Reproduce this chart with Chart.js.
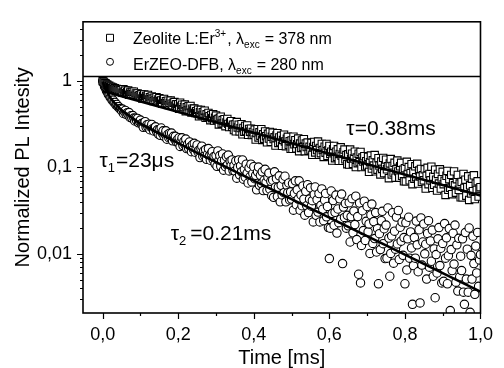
<!DOCTYPE html>
<html>
<head>
<meta charset="utf-8">
<script src="https://cdn.jsdelivr.net/npm/chart.js"></script>
<style>
  html, body { margin: 0; padding: 0; background: #fff; }
  canvas { display: block; }
</style>
</head>
<body>
<canvas id="decay" width="504" height="368"></canvas>
<script>
// time axis of both decay curves [ms], one row per 0.05 ms
const times = [
  0, 0.0025, 0.005, 0.0075, 0.01, 0.0125, 0.015, 0.0175, 0.02, 0.0225, 0.025, 0.0275, 0.03, 0.0325, 0.035, 0.0375, 0.04, 0.0425, 0.045, 0.0475,
  0.05, 0.0525, 0.055, 0.0575, 0.06, 0.0625, 0.065, 0.0675, 0.07, 0.0725, 0.075, 0.0775, 0.08, 0.0825, 0.085, 0.0875, 0.09, 0.0925, 0.095, 0.0975,
  0.1, 0.1025, 0.105, 0.1075, 0.11, 0.1125, 0.115, 0.1175, 0.12, 0.1225, 0.125, 0.1275, 0.13, 0.1325, 0.135, 0.1375, 0.14, 0.1425, 0.145, 0.1475,
  0.15, 0.1525, 0.155, 0.1575, 0.16, 0.1625, 0.165, 0.1675, 0.17, 0.1725, 0.175, 0.1775, 0.18, 0.1825, 0.185, 0.1875, 0.19, 0.1925, 0.195, 0.1975,
  0.2, 0.2025, 0.205, 0.2075, 0.21, 0.2125, 0.215, 0.2175, 0.22, 0.2225, 0.225, 0.2275, 0.23, 0.2325, 0.235, 0.2375, 0.24, 0.2425, 0.245, 0.2475,
  0.25, 0.2525, 0.255, 0.2575, 0.26, 0.2625, 0.265, 0.2675, 0.27, 0.2725, 0.275, 0.2775, 0.28, 0.2825, 0.285, 0.2875, 0.29, 0.2925, 0.295, 0.2975,
  0.3, 0.3025, 0.305, 0.3075, 0.31, 0.3125, 0.315, 0.3175, 0.32, 0.3225, 0.325, 0.3275, 0.33, 0.3325, 0.335, 0.3375, 0.34, 0.3425, 0.345, 0.3475,
  0.35, 0.3525, 0.355, 0.3575, 0.36, 0.3625, 0.365, 0.3675, 0.37, 0.3725, 0.375, 0.3775, 0.38, 0.3825, 0.385, 0.3875, 0.39, 0.3925, 0.395, 0.3975,
  0.4, 0.4025, 0.405, 0.4075, 0.41, 0.4125, 0.415, 0.4175, 0.42, 0.4225, 0.425, 0.4275, 0.43, 0.4325, 0.435, 0.4375, 0.44, 0.4425, 0.445, 0.4475,
  0.45, 0.4525, 0.455, 0.4575, 0.46, 0.4625, 0.465, 0.4675, 0.47, 0.4725, 0.475, 0.4775, 0.48, 0.4825, 0.485, 0.4875, 0.49, 0.4925, 0.495, 0.4975,
  0.5, 0.5025, 0.505, 0.5075, 0.51, 0.5125, 0.515, 0.5175, 0.52, 0.5225, 0.525, 0.5275, 0.53, 0.5325, 0.535, 0.5375, 0.54, 0.5425, 0.545, 0.5475,
  0.55, 0.5525, 0.555, 0.5575, 0.56, 0.5625, 0.565, 0.5675, 0.57, 0.5725, 0.575, 0.5775, 0.58, 0.5825, 0.585, 0.5875, 0.59, 0.5925, 0.595, 0.5975,
  0.6, 0.6025, 0.605, 0.6075, 0.61, 0.6125, 0.615, 0.6175, 0.62, 0.6225, 0.625, 0.6275, 0.63, 0.6325, 0.635, 0.6375, 0.64, 0.6425, 0.645, 0.6475,
  0.65, 0.6525, 0.655, 0.6575, 0.66, 0.6625, 0.665, 0.6675, 0.67, 0.6725, 0.675, 0.6775, 0.68, 0.6825, 0.685, 0.6875, 0.69, 0.6925, 0.695, 0.6975,
  0.7, 0.7025, 0.705, 0.7075, 0.71, 0.7125, 0.715, 0.7175, 0.72, 0.7225, 0.725, 0.7275, 0.73, 0.7325, 0.735, 0.7375, 0.74, 0.7425, 0.745, 0.7475,
  0.75, 0.7525, 0.755, 0.7575, 0.76, 0.7625, 0.765, 0.7675, 0.77, 0.7725, 0.775, 0.7775, 0.78, 0.7825, 0.785, 0.7875, 0.79, 0.7925, 0.795, 0.7975,
  0.8, 0.8025, 0.805, 0.8075, 0.81, 0.8125, 0.815, 0.8175, 0.82, 0.8225, 0.825, 0.8275, 0.83, 0.8325, 0.835, 0.8375, 0.84, 0.8425, 0.845, 0.8475,
  0.85, 0.8525, 0.855, 0.8575, 0.86, 0.8625, 0.865, 0.8675, 0.87, 0.8725, 0.875, 0.8775, 0.88, 0.8825, 0.885, 0.8875, 0.89, 0.8925, 0.895, 0.8975,
  0.9, 0.9025, 0.905, 0.9075, 0.91, 0.9125, 0.915, 0.9175, 0.92, 0.9225, 0.925, 0.9275, 0.93, 0.9325, 0.935, 0.9375, 0.94, 0.9425, 0.945, 0.9475,
  0.95, 0.9525, 0.955, 0.9575, 0.96, 0.9625, 0.965, 0.9675, 0.97, 0.9725, 0.975, 0.9775, 0.98, 0.9825, 0.985, 0.9875, 0.99, 0.9925, 0.995, 0.9975,
  1.0
];

// Zeolite L:Er3+ (squares)
const zeoliteVals = [
  1.0, 0.98, 0.95, 0.94, 0.91, 0.905, 0.875, 0.88, 0.85, 0.86, 0.83, 0.84, 0.81, 0.825, 0.80, 0.81, 0.785, 0.80, 0.775, 0.79,
  0.786, 0.730, 0.804, 0.753, 0.776, 0.722, 0.744, 0.775, 0.695, 0.739, 0.708, 0.751, 0.707, 0.752, 0.677, 0.719, 0.695, 0.718, 0.667, 0.687,
  0.664, 0.702, 0.628, 0.671, 0.699, 0.636, 0.671, 0.644, 0.690, 0.612, 0.648, 0.615, 0.664, 0.627, 0.586, 0.642, 0.605, 0.651, 0.582, 0.610,
  0.634, 0.587, 0.597, 0.546, 0.606, 0.620, 0.552, 0.584, 0.555, 0.593, 0.527, 0.560, 0.594, 0.547, 0.519, 0.560, 0.571, 0.518, 0.538, 0.492,
  0.540, 0.478, 0.562, 0.506, 0.532, 0.473, 0.499, 0.534, 0.446, 0.496, 0.463, 0.511, 0.464, 0.514, 0.432, 0.479, 0.455, 0.480, 0.426, 0.448,
  0.425, 0.465, 0.390, 0.434, 0.462, 0.398, 0.434, 0.407, 0.453, 0.375, 0.412, 0.379, 0.428, 0.391, 0.352, 0.405, 0.370, 0.414, 0.348, 0.375,
  0.398, 0.353, 0.364, 0.314, 0.373, 0.387, 0.321, 0.353, 0.324, 0.362, 0.300, 0.331, 0.364, 0.319, 0.293, 0.332, 0.343, 0.295, 0.312, 0.270,
  0.314, 0.262, 0.335, 0.289, 0.312, 0.262, 0.285, 0.317, 0.242, 0.286, 0.259, 0.302, 0.263, 0.306, 0.238, 0.279, 0.259, 0.281, 0.237, 0.257,
  0.238, 0.274, 0.210, 0.250, 0.277, 0.222, 0.255, 0.233, 0.277, 0.208, 0.242, 0.215, 0.261, 0.230, 0.195, 0.245, 0.216, 0.257, 0.198, 0.226,
  0.252, 0.213, 0.223, 0.179, 0.234, 0.249, 0.192, 0.222, 0.196, 0.232, 0.178, 0.208, 0.239, 0.199, 0.176, 0.215, 0.226, 0.182, 0.201, 0.164,
  0.205, 0.164, 0.227, 0.185, 0.207, 0.166, 0.186, 0.216, 0.154, 0.189, 0.168, 0.205, 0.172, 0.212, 0.154, 0.189, 0.172, 0.194, 0.156, 0.173,
  0.161, 0.192, 0.140, 0.172, 0.197, 0.149, 0.177, 0.159, 0.199, 0.140, 0.168, 0.146, 0.187, 0.159, 0.132, 0.174, 0.148, 0.187, 0.136, 0.158,
  0.177, 0.143, 0.152, 0.120, 0.162, 0.177, 0.128, 0.152, 0.132, 0.162, 0.119, 0.143, 0.171, 0.136, 0.119, 0.150, 0.161, 0.124, 0.139, 0.109,
  0.142, 0.108, 0.161, 0.126, 0.144, 0.110, 0.127, 0.152, 0.101, 0.130, 0.112, 0.144, 0.115, 0.151, 0.101, 0.130, 0.117, 0.135, 0.103, 0.118,
  0.105, 0.132, 0.089, 0.115, 0.137, 0.097, 0.121, 0.105, 0.139, 0.090, 0.113, 0.094, 0.128, 0.105, 0.083, 0.117, 0.096, 0.129, 0.086, 0.104,
  0.123, 0.095, 0.103, 0.075, 0.111, 0.125, 0.083, 0.104, 0.087, 0.113, 0.076, 0.095, 0.120, 0.090, 0.076, 0.103, 0.113, 0.080, 0.094, 0.069,
  0.098, 0.069, 0.116, 0.084, 0.101, 0.071, 0.086, 0.109, 0.064, 0.089, 0.074, 0.103, 0.077, 0.110, 0.065, 0.092, 0.079, 0.096, 0.068, 0.081,
  0.071, 0.095, 0.057, 0.080, 0.099, 0.064, 0.084, 0.071, 0.102, 0.058, 0.078, 0.063, 0.094, 0.072, 0.054, 0.084, 0.065, 0.095, 0.057, 0.073,
  0.089, 0.064, 0.070, 0.048, 0.080, 0.091, 0.055, 0.073, 0.058, 0.082, 0.049, 0.066, 0.090, 0.062, 0.051, 0.073, 0.082, 0.055, 0.065, 0.045,
  0.068, 0.045, 0.084, 0.058, 0.072, 0.047, 0.059, 0.079, 0.042, 0.062, 0.050, 0.074, 0.053, 0.081, 0.043, 0.065, 0.055, 0.069, 0.046, 0.057,
  0.059
];

// ErZEO-DFB (circles)
const erzeoVals = [
  1.0, 0.94, 0.86, 0.83, 0.77, 0.755, 0.70, 0.69, 0.645, 0.64, 0.60, 0.60, 0.565, 0.565, 0.53, 0.535, 0.505, 0.505, 0.478, 0.48,
  0.453, 0.473, 0.421, 0.442, 0.456, 0.411, 0.428, 0.407, 0.431, 0.379, 0.396, 0.372, 0.398, 0.372, 0.345, 0.371, 0.347, 0.369, 0.328, 0.339,
  0.353, 0.320, 0.325, 0.291, 0.329, 0.338, 0.292, 0.312, 0.291, 0.316, 0.273, 0.292, 0.314, 0.281, 0.264, 0.289, 0.295, 0.262, 0.272, 0.243,
  0.272, 0.235, 0.286, 0.250, 0.265, 0.229, 0.243, 0.265, 0.212, 0.241, 0.221, 0.249, 0.221, 0.250, 0.203, 0.229, 0.214, 0.229, 0.198, 0.209,
  0.196, 0.221, 0.175, 0.200, 0.220, 0.179, 0.200, 0.184, 0.213, 0.165, 0.186, 0.167, 0.197, 0.174, 0.152, 0.183, 0.162, 0.190, 0.150, 0.166,
  0.182, 0.152, 0.159, 0.130, 0.166, 0.176, 0.135, 0.155, 0.137, 0.161, 0.124, 0.142, 0.165, 0.136, 0.121, 0.145, 0.152, 0.123, 0.134, 0.110,
  0.137, 0.103, 0.155, 0.120, 0.137, 0.103, 0.119, 0.143, 0.093, 0.121, 0.102, 0.133, 0.106, 0.139, 0.091, 0.118, 0.105, 0.122, 0.092, 0.105,
  0.091, 0.119, 0.075, 0.100, 0.122, 0.082, 0.104, 0.089, 0.122, 0.073, 0.095, 0.077, 0.109, 0.086, 0.066, 0.099, 0.078, 0.109, 0.068, 0.085,
  0.102, 0.074, 0.081, 0.055, 0.089, 0.101, 0.062, 0.081, 0.065, 0.089, 0.054, 0.071, 0.095, 0.067, 0.054, 0.077, 0.086, 0.056, 0.069, 0.047,
  0.071, 0.045, 0.089, 0.059, 0.074, 0.046, 0.059, 0.080, 0.040, 0.062, 0.048, 0.073, 0.051, 0.079, 0.040, 0.062, 0.051, 0.066, 0.042, 0.052,
  0.043, 0.065, 0.032, 0.050, 0.070, 0.037, 0.055, 0.043, 0.070, 0.032, 0.048, 0.036, 0.061, 0.043, 0.028, 0.053, 0.036, 0.063, 0.030, 0.043,
  0.058, 0.0356, 0.0412, 0.0234, 0.0486, 0.0593, 0.0279, 0.0423, 0.0304, 0.0498, 0.0234, 0.0364, 0.0564, 0.0328, 0.0242, 0.0418, 0.0499, 0.0268, 0.0354, 0.0201,
  0.0088, 0.0198, 0.0533, 0.0293, 0.0413, 0.0214, 0.0302, 0.0478, 0.0174, 0.033, 0.0229, 0.0433, 0.0252, 0.0491, 0.0077, 0.0348, 0.0264, 0.0383, 0.0198, 0.0279,
  0.0211, 0.039, 0.0137, 0.027, 0.0435, 0.0175, 0.0312, 0.0218, 0.0464, 0.0146, 0.027, 0.0058, 0.0387, 0.0046, 0.0125, 0.0315, 0.0186, 0.0407, 0.0143, 0.0238,
  0.0353, 0.0179, 0.0222, 0.0101, 0.0282, 0.0376, 0.0132, 0.0236, 0.015, 0.03, 0.0105, 0.0195, 0.0045, 0.0171, 0.0112, 0.0242, 0.031, 0.0131, 0.0195, 0.0088,
  0.0215, 0.0089, 0.0339, 0.0152, 0.0055, 0.0101, 0.0161, 0.0299, 0.0078, 0.0183, 0.0113, 0.0266, 0.013, 0.0317, 0.0086, 0.0203, 0.014, 0.0233, 0.0096, 0.0154,
  0.0045, 0.0229, 0.0065, 0.0149, 0.0265, 0.0089, 0.0179, 0.0117, 0.0026, 0.0073, 0.0154, 0.0089, 0.0239, 0.0127, 0.0062, 0.019, 0.0027, 0.026, 0.0074, 0.0137,
  0.0222, 0.01, 0.0129, 0.0051, 0.0172, 0.0242, 0.007, 0.0141, 0.0082, 0.0188, 0.0055, 0.0114, 0.0031, 0.0098, 0.006, 0.0149, 0.0201, 0.0073, 0.0116, 0.0046,
  0.0132, 0.0048, 0.0224, 0.0089, 0.0153, 0.0045, 0.0095, 0.0196, 0.0022, 0.0112, 0.0064, 0.0173, 0.0076, 0.0215, 0.0047, 0.0127, 0.0037, 0.0151, 0.0054, 0.0094,
  0.0064, 0.0149, 0.0036, 0.0026, 0.0176, 0.0051, 0.0113, 0.0036, 0.0199, 0.0021, 0.0096, 0.0051, 0.016, 0.0077, 0.0034, 0.0123, 0.006, 0.0177, 0.0042, 0.0085,
  0.0098
];

// fitted curves
const zeoliteFitT = [0, 0.5, 1.0];
const zeoliteFitV = [0.768, 0.19, 0.0472];
const erzeoFitT = [0, 0.005, 0.01, 0.02, 0.03, 0.05, 0.075, 0.1, 0.15, 0.2, 0.25, 0.5, 0.75, 1.0];
const erzeoFitV = [0.974, 0.856, 0.772, 0.644, 0.566, 0.46, 0.384, 0.32, 0.247, 0.191, 0.147, 0.0429, 0.0125, 0.00365];

// ticks
const xTickVals = [0, 0.2, 0.4, 0.6, 0.8, 1.0];
const xTickLabels = ["0,0", "0,2", "0,4", "0,6", "0,8", "1,0"];
const xMinorVals = [0.1, 0.3, 0.5, 0.7, 0.9];
const yTickVals = [0.01, 0.1, 1];
const yTickLabels = ["0,01", "0,1", "1"];
const yMinorVals = [
  0.003, 0.004, 0.005, 0.006, 0.007, 0.008, 0.009,
  0.02, 0.03, 0.04, 0.05, 0.06, 0.07, 0.08, 0.09,
  0.2, 0.3, 0.4, 0.5, 0.6, 0.7, 0.8, 0.9,
  2, 3, 4
];

const FONT = "'Liberation Sans', Arial, sans-serif";
const legendFloor = 1.14; // y value where the legend box ends

const toPoints = (xs, ys) => xs.map((x, i) => ({ x: x, y: ys[i] }));

const findIdx = (list, v) => list.findIndex((t) => Math.abs(t - v) <= Math.abs(t) * 1e-6 + 1e-9);

// draws text made of pieces with their own size / shift (super- and subscripts)
const drawRich = (ctx, x, y, parts) => {
  parts.forEach((p) => {
    ctx.font = p.size + "px " + FONT;
    x += p.gap || 0;
    ctx.fillText(p.text, x, y + (p.dy || 0));
    x += ctx.measureText(p.text).width;
  });
};

// frame, tick marks, legend box and the lifetime labels
const decorPlugin = {
  id: "decor",
  afterDraw(chart) {
    const { ctx, chartArea: a, scales } = chart;
    const x = scales.x;
    const y = scales.y;
    ctx.save();
    ctx.strokeStyle = "#000";
    ctx.fillStyle = "#000";
    ctx.lineWidth = 1.6;
    ctx.strokeRect(a.left, a.top, a.right - a.left, a.bottom - a.top);

    const ly = Math.round(y.getPixelForValue(legendFloor)) + 0.5;
    ctx.beginPath();
    ctx.moveTo(a.left, ly);
    ctx.lineTo(a.right, ly);
    ctx.stroke();

    // tick marks, long on labelled values
    ctx.lineWidth = 1.2;
    ctx.beginPath();
    x.ticks.forEach((t) => {
      const px = Math.round(x.getPixelForValue(t.value)) + 0.5;
      const len = findIdx(xTickVals, t.value) >= 0 ? 6 : 3;
      ctx.moveTo(px, a.bottom);
      ctx.lineTo(px, a.bottom + len);
    });
    y.ticks.forEach((t) => {
      const py = Math.round(y.getPixelForValue(t.value)) + 0.5;
      const len = findIdx(yTickVals, t.value) >= 0 ? 6 : 3;
      ctx.moveTo(a.left, py);
      ctx.lineTo(a.left - len, py);
    });
    ctx.stroke();

    // legend
    ctx.lineWidth = 1;
    ctx.fillStyle = "#fff";
    ctx.beginPath();
    ctx.rect(a.left + 23.5, a.top + 12.5, 7, 7);
    ctx.fill();
    ctx.stroke();
    ctx.beginPath();
    ctx.arc(a.left + 27, a.top + 40, 3.5, 0, Math.PI * 2);
    ctx.fill();
    ctx.stroke();

    ctx.fillStyle = "#000";
    ctx.textBaseline = "alphabetic";
    drawRich(ctx, a.left + 50, a.top + 22, [
      { text: "Zeolite L:Er", size: 16 },
      { text: "3+", size: 10, dy: -7 },
      { text: ", λ", size: 16, gap: 1 },
      { text: "exc", size: 10, dy: 4 },
      { text: "= 378 nm", size: 16, gap: 5 },
    ]);
    drawRich(ctx, a.left + 50, a.top + 48, [
      { text: "ErZEO-DFB, λ", size: 16 },
      { text: "exc", size: 10, dy: 4 },
      { text: "= 280 nm", size: 16, gap: 5 },
    ]);

    // lifetimes
    drawRich(ctx, x.getPixelForValue(0.645), y.getPixelForValue(0.235), [
      { text: "τ=0.38ms", size: 21 },
    ]);
    drawRich(ctx, x.getPixelForValue(-0.0085), y.getPixelForValue(0.1), [
      { text: "τ", size: 21 },
      { text: "1", size: 13, dy: 5 },
      { text: "=23μs", size: 21, gap: 1 },
    ]);
    drawRich(ctx, x.getPixelForValue(0.18), y.getPixelForValue(0.0144), [
      { text: "τ", size: 21 },
      { text: "2", size: 13, dy: 5 },
      { text: "=0.21ms", size: 21, gap: 4 },
    ]);
    ctx.restore();
  },
};

const ctx = document.getElementById("decay");
new Chart(ctx, {
  type: "scatter",
  data: {
    datasets: [
      {
        label: "Zeolite fit",
        data: toPoints(zeoliteFitT, zeoliteFitV),
        showLine: true,
        pointRadius: 0,
        borderColor: "#000",
        borderWidth: 2.6,
        order: 0,
        clip: 0,
      },
      {
        label: "ErZEO fit",
        data: toPoints(erzeoFitT, erzeoFitV),
        showLine: true,
        pointRadius: 0,
        borderColor: "#000",
        borderWidth: 2.6,
        order: 0,
        clip: 0,
      },
      {
        label: "Zeolite L:Er3+",
        data: toPoints(times, zeoliteVals),
        pointStyle: "rect",
        pointRadius: 5.2,
        borderWidth: 1.1,
        borderColor: "#000",
        backgroundColor: "#fff",
        order: 1,
        clip: 0,
      },
      {
        label: "ErZEO-DFB",
        data: toPoints(times, erzeoVals),
        pointStyle: "circle",
        pointRadius: 4.2,
        borderWidth: 1.1,
        borderColor: "#000",
        backgroundColor: "#fff",
        order: 2,
        clip: 0,
      },
    ],
  },
  options: {
    responsive: false,
    animation: false,
    layout: { padding: { top: 13, right: 14, left: 0, bottom: 0 } },
    plugins: {
      legend: { display: false },
      tooltip: { enabled: false },
    },
    scales: {
      x: {
        type: "linear",
        min: -0.052,
        max: 1.0,
        afterBuildTicks: (scale) => {
          scale.ticks = xTickVals.concat(xMinorVals).sort((a, b) => a - b).map((v) => ({ value: v }));
        },
        afterFit: (scale) => {
          scale.height = 55;
        },
        grid: { display: false, drawTicks: false },
        border: { display: false },
        ticks: {
          autoSkip: false,
          maxRotation: 0,
          padding: 11,
          color: "#000",
          font: { family: FONT, size: 18 },
          callback: (value) => {
            const i = findIdx(xTickVals, value);
            return i >= 0 ? xTickLabels[i] : "";
          },
        },
        title: {
          display: true,
          text: "Time [ms]",
          color: "#000",
          font: { family: FONT, size: 20, lineHeight: 1 },
          padding: { top: 0, bottom: 0 },
        },
      },
      y: {
        type: "logarithmic",
        min: 0.002065,
        max: 4.846,
        afterBuildTicks: (scale) => {
          scale.ticks = yTickVals.concat(yMinorVals).sort((a, b) => a - b).map((v) => ({ value: v }));
        },
        afterFit: (scale) => {
          scale.width = 83;
        },
        grid: { display: false, drawTicks: false },
        border: { display: false },
        ticks: {
          autoSkip: false,
          padding: 11,
          color: "#000",
          font: { family: FONT, size: 18 },
          callback: (value) => {
            const i = findIdx(yTickVals, value);
            return i >= 0 ? yTickLabels[i] : "";
          },
        },
        title: {
          display: true,
          text: "Normalized PL Intesity",
          color: "#000",
          font: { family: FONT, size: 20, lineHeight: 1 },
          padding: { top: 13, bottom: 0 },
        },
      },
    },
  },
  plugins: [decorPlugin],
});
</script>
</body>
</html>
